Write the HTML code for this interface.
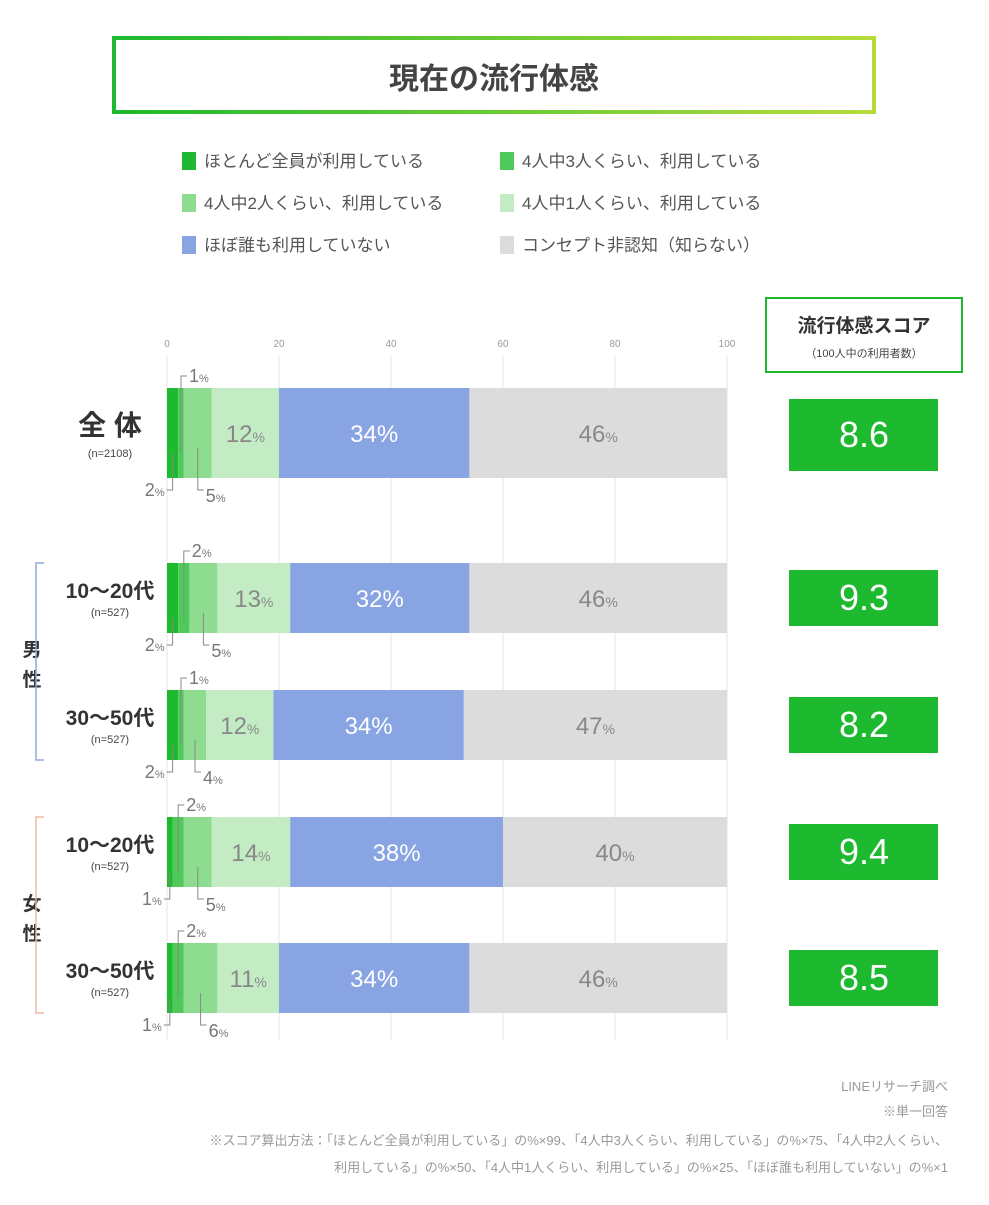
<!DOCTYPE html>
<html><head><meta charset="utf-8"><style>
body{margin:0;background:#fff;width:989px;height:1200px;overflow:hidden;font-family:"Liberation Sans","Noto Sans CJK JP",sans-serif}
svg text{font-family:"Liberation Sans","Noto Sans CJK JP",sans-serif}
</style></head><body>
<svg id="chart" width="989" height="1200" viewBox="0 0 989 1200">
<defs><linearGradient id="tg" x1="0" x2="1"><stop offset="0" stop-color="#1db92e"/><stop offset="1" stop-color="#b6dc3a"/></linearGradient></defs>
<rect x="114" y="38" width="760" height="74" fill="#fff" stroke="url(#tg)" stroke-width="4"/>
<text x="494" y="89" font-size="30" font-weight="bold" fill="#444" text-anchor="middle">現在の流行体感</text>
<g id="legend"></g>
<g id="grid"></g>
<g id="bars"></g>
<rect x="766" y="298" width="196" height="74" fill="#fff" stroke="#1db92e" stroke-width="2"/>
<text x="864" y="332" font-size="19" font-weight="bold" fill="#333" text-anchor="middle">流行体感スコア</text>
<text x="864" y="357" font-size="11" fill="#444" text-anchor="middle">（100人中の利用者数）</text>
<text x="32" y="656" font-size="19" font-weight="bold" fill="#333" text-anchor="middle">男</text>
<text x="32" y="686" font-size="19" font-weight="bold" fill="#333" text-anchor="middle">性</text>
<path d="M44 563 H36 V760 H44" fill="none" stroke="#8fa8e0" stroke-width="1.5"/>
<text x="32" y="910" font-size="19" font-weight="bold" fill="#333" text-anchor="middle">女</text>
<text x="32" y="940" font-size="19" font-weight="bold" fill="#333" text-anchor="middle">性</text>
<path d="M44 817 H36 V1013 H44" fill="none" stroke="#f2b8a8" stroke-width="1.5"/>
<g font-size="13" fill="#999" text-anchor="end">
<text x="948" y="1091">LINEリサーチ調べ</text>
<text x="948" y="1116">※単一回答</text>
<text x="948" y="1145">※スコア算出方法：「ほとんど全員が利用している」の%×99、「4人中3人くらい、利用している」の%×75、「4人中2人くらい、</text>
<text x="948" y="1172">利用している」の%×50、「4人中1人くらい、利用している」の%×25、「ほぼ誰も利用していない」の%×1</text>
</g>
</svg>
<script>
const categories=["全 体","10〜20代","30〜50代","10〜20代","30〜50代"];
const sampleSizes=["(n=2108)","(n=527)","(n=527)","(n=527)","(n=527)"];
const s1=[2,2,2,1,1];
const s2=[1,2,1,2,2];
const s3=[5,5,4,5,6];
const s4=[12,13,12,14,11];
const s5=[34,32,34,38,34];
const s6=[46,46,47,40,46];
const scores=["8.6","9.3","8.2","9.4","8.5"];
const ticks=[0,20,40,60,80,100];
const seriesNames=["ほとんど全員が利用している","4人中3人くらい、利用している","4人中2人くらい、利用している","4人中1人くらい、利用している","ほぼ誰も利用していない","コンセプト非認知（知らない）"];
const colors=["#1db92e","#4ec95a","#8edc8f","#c4ecc4","#88a4e2","#dcdcdc"];
const NS="http://www.w3.org/2000/svg";
const x=v=>167+v*5.6;
const rowsY=[[388,90],[563,70],[690,70],[817,70],[943,70]];
function mk(t,a,p,txt){const e=document.createElementNS(NS,t);for(const k in a)e.setAttribute(k,a[k]);if(txt!==undefined)e.textContent=txt;p.appendChild(e);return e;}
const leg=document.getElementById('legend');
seriesNames.forEach((n,i)=>{const lx=i%2?500:182,ly=152+Math.floor(i/2)*42;
const r=mk('rect',{x:lx,y:ly,width:14,height:18,fill:colors[i]},leg);


const t=mk('text',{x:lx+22,y:ly+15,'font-size':17,fill:'#555'},leg,n);

});
const g=document.getElementById('grid');
ticks.forEach(v=>{const l=mk('line',{x1:x(v),x2:x(v),y1:355,y2:1040,stroke:'#e4e4e4','stroke-width':1},g);


const t=mk('text',{x:x(v),y:347,'font-size':10,fill:'#999','text-anchor':'middle'},g,v);

});
const b=document.getElementById('bars');
const series=[s1,s2,s3,s4,s5,s6];
categories.forEach((c,i)=>{const [y,h]=rowsY[i];let acc=0;const cy=y+h/2;
series.forEach((s,j)=>{const r=mk('rect',{x:x(acc),y:y,width:s[i]*5.6,height:h,fill:colors[j]},b);


const mid=x(acc+s[i]/2);
if(j>=3){const t=mk('text',{x:mid,y:cy+9,'font-size':24,fill:j==4?'#fff':'#888','text-anchor':'middle'},b);


t.innerHTML=s[i]+(j==4?'%':'<tspan font-size="14">%</tspan>');}
acc+=s[i];});
// small leader labels
const a1=x(s1[i]/2),a2=x(s1[i]+s2[i]/2),a3=x(s1[i]+s2[i]+s3[i]/2);
const p1=mk('path',{d:`M${a1} ${cy+20} V${y+h+12} H${a1-6}`,fill:'none',stroke:'#888'},b);


const t1=mk('text',{x:a1-8,y:y+h+18,'font-size':18,fill:'#777','text-anchor':'end'},b);


t1.innerHTML=s1[i]+'<tspan font-size="11">%</tspan>';
const p2=mk('path',{d:`M${a2} ${cy+20} V${y-12} H${a2+6}`,fill:'none',stroke:'#888'},b);


const t2=mk('text',{x:a2+8,y:y-6,'font-size':18,fill:'#777'},b);


t2.innerHTML=s2[i]+'<tspan font-size="11">%</tspan>';
const p3=mk('path',{d:`M${a3} ${cy+15} V${y+h+12} H${a3+6}`,fill:'none',stroke:'#888'},b);


const t3=mk('text',{x:a3+8,y:y+h+24,'font-size':18,fill:'#777'},b);


t3.innerHTML=s3[i]+'<tspan font-size="11">%</tspan>';
const cl=mk('text',{x:110,y:cy+(i==0?2:0),'font-size':i==0?28:21,'font-weight':'bold',fill:'#333','text-anchor':'middle'},b,c);


const nl=mk('text',{x:110,y:cy+(i==0?24:18),'font-size':11,fill:'#444','text-anchor':'middle'},b,sampleSizes[i]);


const sb=mk('rect',{x:789,y:cy-34,width:149,height:i==0?72:56,fill:'#1db92e'},b);
if(i>0)sb.setAttribute('y',cy-28);


const st=mk('text',{x:864,y:cy+(i==0?14:12),'font-size':36,fill:'#fff','text-anchor':'middle'},b,scores[i]);


});
</script>
</body></html>
